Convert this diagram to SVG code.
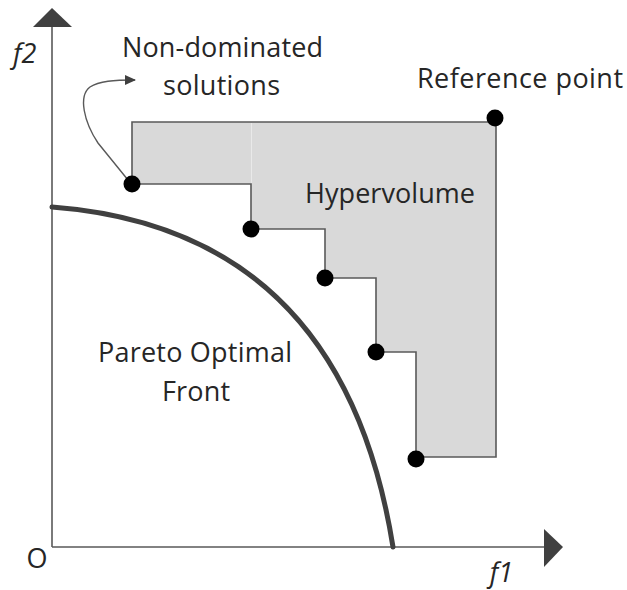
<svg xmlns="http://www.w3.org/2000/svg" width="627" height="590" viewBox="0 0 627 590">
<style>
.lbl{font-family:"Open Sans","Liberation Sans",sans-serif;font-size:27px;fill:#262626}
.ax{font-family:"Open Sans","Liberation Sans",sans-serif;font-size:27px;fill:#262626;font-style:italic}
.axis{stroke:#595959;stroke-width:1.6;fill:none}
.head{fill:#404040}
.dot{fill:#000}
.hv{fill:#d9d9d9;stroke:#595959;stroke-width:1.6;stroke-linejoin:miter}
</style>
<defs>
<marker id="arr" markerWidth="12" markerHeight="10" refX="10" refY="5" orient="auto" markerUnits="userSpaceOnUse">
<path d="M0,0 L11,5 L0,10 Z" fill="#404040"/>
</marker>
</defs>
<rect width="627" height="590" fill="#fff"/>
<g id="hypervolume">
<polygon class="hv" points="132,122 496,122 496,457 416,457 416,352 376,352 376,278 325,278 325,229 251,229 251,184 132,184"/>
<line x1="251.5" y1="123" x2="251.5" y2="183" stroke="#e9e9e9" stroke-width="1"/>
</g>
<g id="axes">
<line class="axis" x1="52" y1="547" x2="52" y2="24"/>
<line class="axis" x1="52" y1="547" x2="546" y2="547"/>
<polygon class="head" points="52,8 33,27 72,27"/>
<polygon class="head" points="563,547 544,529 544,567"/>
</g>
<g id="pareto-front">
<path d="M52,207 C250,222 360,340 393,547" fill="none" stroke="#404040" stroke-width="5" stroke-linecap="round"/>
</g>
<g id="connectors">
<path d="M128,180 L98,143 C84,122 78,96 90,87 C99,81 114,80 135,80" fill="none" stroke="#595959" stroke-width="1.4" marker-end="url(#arr)"/>
</g>
<g id="solutions">
<circle class="dot" cx="132" cy="184" r="8.5"/>
<circle class="dot" cx="251" cy="229" r="8.5"/>
<circle class="dot" cx="325" cy="278" r="8.5"/>
<circle class="dot" cx="376" cy="352" r="8.5"/>
<circle class="dot" cx="416" cy="459" r="8.5"/>
</g>
<g id="reference-point">
<circle class="dot" cx="495" cy="118" r="8.5"/>
<text class="lbl" x="417" y="88" textLength="206">Reference point</text>
</g>
<g id="labels">
<text class="lbl" x="122" y="57" textLength="201">Non-dominated</text>
<text class="lbl" x="163" y="95" textLength="117">solutions</text>
<text class="lbl" x="305" y="203" textLength="170">Hypervolume</text>
<text class="lbl" x="98" y="362" textLength="194">Pareto Optimal</text>
<text class="lbl" x="162" y="401" textLength="68">Front</text>
<text class="lbl" x="37" y="568" text-anchor="middle">O</text>
<text class="ax" x="13" y="63">f2</text>
<text class="ax" x="513" y="582" text-anchor="end">f1</text>
</g>
</svg>
